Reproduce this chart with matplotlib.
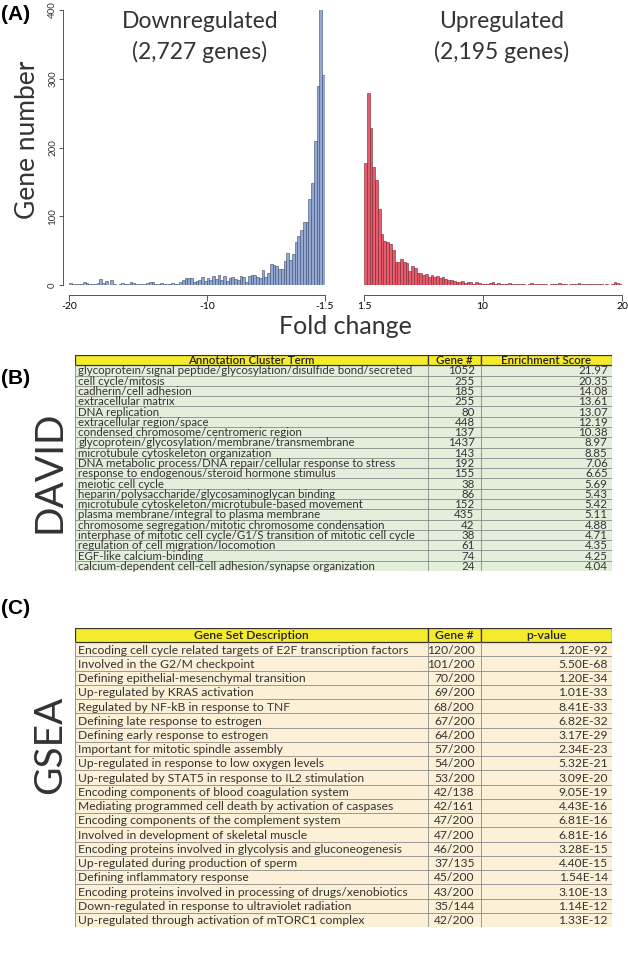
import numpy as np
import matplotlib.pyplot as plt
from matplotlib.patches import Rectangle

# histogram counts, left-to-right, bins of equal width
down_counts = [3, 2, 1, 2, 1, 4, 3, 1, 2, 1, 3, 9, 3, 6, 0, 7, 1, 0, 2, 3,
               2, 1, 4, 3, 2, 1, 2, 2, 3, 5, 4, 2, 1, 3, 2, 2, 1, 3, 1, 2,
               4, 7, 10, 10, 10, 4, 6, 8, 11, 6, 10,
               8, 13, 9, 15, 7, 13, 6, 10, 12, 9, 8, 13, 11, 5, 13, 15, 14,
               12, 10, 22, 12, 17, 30, 29, 28, 24, 24, 35, 47, 36, 45, 62, 71,
               80, 91, 92, 125, 149, 209, 289, 402, 305]
up_counts = [177, 280, 229, 172, 153, 110, 74, 64, 62, 59, 51, 33, 33, 38, 33,
             32, 20, 28, 25, 18, 17,
             14, 16, 12, 15, 11, 13, 10, 11, 9, 7, 8, 6, 5, 4, 6, 3, 5, 4, 2, 4, 3, 2,
             2, 1, 3, 4, 2, 3, 1, 1, 2, 3, 2, 1, 1, 2, 1, 0, 1, 3, 1, 2,
             1, 1, 2, 0, 1, 2, 2, 3, 2, 1, 0, 2, 2, 1, 3, 1, 1, 2, 2, 1,
             1, 2, 1, 0, 1, 0, 2, 4, 3, 2]
down_range = (-20, -1.5)
up_range = (1.5, 20)
down_ticks = [-20, -10, -1.5]
up_ticks = [1.5, 10, 20]
y_ticks = [0, 100, 200, 300, 400]

david_terms = [
    "glycoprotein/signal peptide/glycosylation/disulfide bond/secreted",
    "cell cycle/mitosis",
    "cadherin/cell adhesion",
    "extracellular matrix",
    "DNA replication",
    "extracellular region/space",
    "condensed chromosome/centromeric region",
    "glycoprotein/glycosylation/membrane/transmembrane",
    "microtubule cytoskeleton organization",
    "DNA metabolic process/DNA repair/cellular response to stress",
    "response to endogenous/steroid hormone stimulus",
    "meiotic cell cycle",
    "heparin/polysaccharide/glycosaminoglycan binding",
    "microtubule cytoskeleton/microtubule-based movement",
    "plasma membrane/integral to plasma membrane",
    "chromosome segregation/mitotic chromosome condensation",
    "interphase of mitotic cell cycle/G1/S transition of mitotic cell cycle",
    "regulation of cell migration/locomotion",
    "EGF-like calcium-binding",
    "calcium-dependent cell-cell adhesion/synapse organization",
]
david_genes = ["1052", "255", "185", "255", "80", "448", "137", "1437", "143", "192",
               "155", "38", "86", "152", "435", "42", "38", "61", "74", "24"]
david_scores = ["21.97", "20.35", "14.08", "13.61", "13.07", "12.19", "10.38", "8.97",
                "8.85", "7.06", "6.65", "5.69", "5.43", "5.42", "5.11", "4.88", "4.71",
                "4.35", "4.25", "4.04"]

gsea_sets = [
    "Encoding cell cycle related targets of E2F transcription factors",
    "Involved in the G2/M checkpoint",
    "Defining epithelial-mesenchymal transition",
    "Up-regulated by KRAS activation",
    "Regulated by NF-kB in response to TNF",
    "Defining late response to estrogen",
    "Defining early response to estrogen",
    "Important for mitotic spindle assembly",
    "Up-regulated in response to low oxygen levels",
    "Up-regulated by STAT5 in response to IL2 stimulation",
    "Encoding components of blood coagulation system",
    "Mediating programmed cell death by activation of caspases",
    "Encoding components of the complement system",
    "Involved in development of skeletal muscle",
    "Encoding proteins involved in glycolysis and gluconeogenesis",
    "Up-regulated during production of sperm",
    "Defining inflammatory response",
    "Encoding proteins involved in processing of drugs/xenobiotics",
    "Down-regulated in response to ultraviolet radiation",
    "Up-regulated through activation of mTORC1 complex",
]
gsea_genes = ["120/200", "101/200", "70/200", "69/200", "68/200", "67/200", "64/200",
              "57/200", "54/200", "53/200", "42/138", "42/161", "47/200", "47/200",
              "46/200", "37/135", "45/200", "43/200", "35/144", "42/200"]
gsea_pvals = ["1.20E-92", "5.50E-68", "1.20E-34", "1.01E-33", "8.41E-33", "6.82E-32",
              "3.17E-29", "2.34E-23", "5.32E-21", "3.09E-20", "9.05E-19", "4.43E-16",
              "6.81E-16", "6.81E-16", "3.28E-15", "4.40E-15", "1.54E-14", "3.10E-13",
              "1.14E-12", "1.33E-12"]

W, H = 628, 967
fig = plt.figure(figsize=(W / 100, H / 100), dpi=100)
title_font = ['Lato', 'DejaVu Sans']
table_font = ['Lato', 'DejaVu Sans']
txt_col = '#333333'


def box(x0, y0, x1, y1):
    # pixel box -> figure fraction rect
    return [x0 / W, 1 - y1 / H, (x1 - x0) / W, (y1 - y0) / H]


def hist_panel(rect, counts, xr, ticks, fc, ec, show_y):
    ax = fig.add_axes(rect)
    edges = np.linspace(xr[0], xr[1], len(counts) + 1)
    ax.bar(edges[:-1], counts, width=np.diff(edges), align='edge',
           color=fc, edgecolor=ec, linewidth=0.4)
    ax.set_xlim(*xr)
    ax.set_ylim(0, 400)
    for s in ['top', 'right']:
        ax.spines[s].set_visible(False)
    ax.spines['bottom'].set_position(('outward', 7))
    ax.spines['bottom'].set_bounds(xr[0], xr[1])
    ax.spines['bottom'].set_color('#555555')
    ax.spines['bottom'].set_linewidth(0.7)
    ax.set_xticks(ticks)
    ax.set_xticklabels([('%g' % t) for t in ticks], fontsize=7.5, family=title_font)
    ax.tick_params(axis='x', length=4, width=0.7, color='#555555', pad=1.5)
    if show_y:
        ax.spines['left'].set_position(('outward', 4))
        ax.spines['left'].set_bounds(0, 400)
        ax.spines['left'].set_color('#555555')
        ax.spines['left'].set_linewidth(0.7)
        ax.set_yticks(y_ticks)
        ax.set_yticklabels([str(t) for t in y_ticks], fontsize=7, rotation=90,
                           va='center', family=title_font, color=txt_col)
        ax.tick_params(axis='y', length=3, width=0.7, color='#555555', pad=1.5)
    else:
        ax.spines['left'].set_visible(False)
        ax.set_yticks([])
    return ax


ax_dn = hist_panel(box(69, 10, 325, 285), down_counts, down_range, down_ticks,
                   '#93a9d3', '#3d4a6b', True)
ax_up = hist_panel(box(364, 10, 622, 285), up_counts, up_range, up_ticks,
                   '#e95b6b', '#6e2630', False)

for x, lines in [(200, ['Downregulated', '(2,727 genes)']),
                 (502, ['Upregulated', '(2,195 genes)'])]:
    fig.text(x / W, 1 - 22 / H, lines[0], ha='center', va='center',
             fontsize=16.5, family=title_font, color=txt_col)
    fig.text(x / W, 1 - 52 / H, lines[1], ha='center', va='center',
             fontsize=16.5, family=title_font, color=txt_col)
fig.text(28 / W, 1 - 140 / H, 'Gene number', ha='center', va='center', rotation=90,
         fontsize=19, family=title_font, color=txt_col)
fig.text(345 / W, 1 - 327 / H, 'Fold change', ha='center', va='center',
         fontsize=18, family=title_font, color=txt_col)

for lab, y in [('(A)', 15), ('(B)', 378), ('(C)', 608)]:
    fig.text(1 / W, 1 - y / H, lab, ha='left', va='center', fontsize=15,
             fontweight='bold', family=['Liberation Sans', 'DejaVu Sans'])
fig.text(50 / W, 1 - 472 / H, 'DAVID', ha='center', va='center', rotation=90,
         fontsize=28, family=title_font, color=txt_col)
fig.text(50 / W, 1 - 745 / H, 'GSEA', ha='center', va='center', rotation=90,
         fontsize=28, family=title_font, color=txt_col)


def draw_table(rect, header, col0, col1, col2, row_color, fs):
    ax = fig.add_axes(rect)
    n = len(col0)
    ax.set_xlim(0, 1)
    ax.set_ylim(n + 1, 0)
    ax.axis('off')
    splits = [0, 0.657, 0.756, 1]
    ax.add_patch(Rectangle((0, 1), 1, n, facecolor=row_color, edgecolor='none'))
    for i in range(2, n + 1):
        ax.plot([0, 1], [i, i], color='#8a8a8a', lw=0.6)
    for s in splits:
        ax.plot([s, s], [1, n + 1], color='#8a8a8a', lw=0.6)
    ax.plot([0, 1], [n + 1, n + 1], color='#8a8a8a', lw=0.6)
    for j in range(3):
        ax.add_patch(Rectangle((splits[j], 0), splits[j + 1] - splits[j], 1,
                               facecolor='#f6ea2c', edgecolor='#333333', lw=0.9))
        ax.text((splits[j] + splits[j + 1]) / 2, 0.55, header[j], ha='center',
                va='center', fontsize=fs, family=table_font,
                fontweight='semibold', color='#222222')
    for i in range(n):
        y = i + 1.55
        ax.text(0.006, y, col0[i], ha='left', va='center', fontsize=fs,
                family=table_font, color=txt_col)
        ax.text(splits[2] - 0.012, y, col1[i], ha='right', va='center', fontsize=fs,
                family=table_font, color=txt_col)
        ax.text(1 - 0.008, y, col2[i], ha='right', va='center', fontsize=fs,
                family=table_font, color=txt_col)


draw_table(box(75, 355, 612, 571), ['Annotation Cluster Term', 'Gene #', 'Enrichment Score'],
           david_terms, david_genes, david_scores, '#e3efdb', 8.3)
draw_table(box(75, 628, 612, 927), ['Gene Set Description', 'Gene #', 'p-value'],
           gsea_sets, gsea_genes, gsea_pvals, '#fcf0d6', 8.7)

fig.savefig('out.png', dpi=100)
